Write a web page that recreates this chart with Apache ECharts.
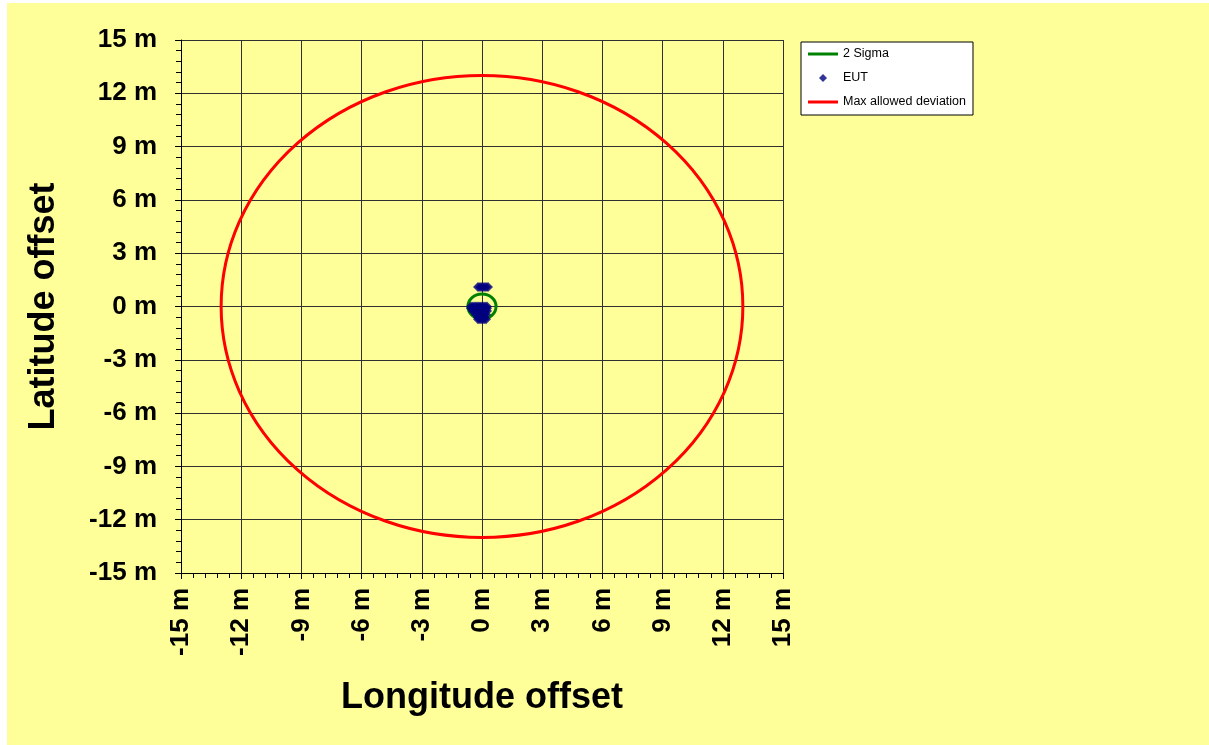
<!DOCTYPE html>
<html>
<head>
<meta charset="utf-8">
<script src="https://cdn.jsdelivr.net/npm/echarts@6/dist/echarts.min.js"></script>
<style>
  html, body { margin: 0; padding: 0; background: #fff; }
  #bg { position: absolute; left: 7px; top: 3px; width: 1202px; height: 742px; background: #FFFF99; }
  #chart { position: absolute; left: 0; top: 0; width: 1209px; height: 745px; }
</style>
</head>
<body>
<div id="bg"></div>
<div id="chart"></div>
<script>
// axis range, metres
const axisMin = -15;
const axisMax = 15;
const axisStep = 3;

// circles: centre lon, centre lat, radius (m)
const sigmaCircle = [[0, 0, 0.7]];
const maxCircle = [[0, 0, 13]];

// EUT fixes, offsets in metres
const eutLon = [
  -0.2, -0.1, 0, 0.1, 0.2, 0.3,
  -0.55, -0.45, -0.35, -0.25, -0.15, -0.05, 0.05, 0.15, 0.25,
  -0.55, -0.45, -0.35, -0.25, -0.15, -0.05, 0.05, 0.15, 0.25,
  -0.45, -0.35, -0.25, -0.15, -0.05, 0.05, 0.15, 0.25,
  -0.3, -0.2, -0.1, 0, 0.1, 0.2,
  -0.2, -0.1, 0, 0.1,
  -0.2, -0.1, 0, 0.1, 0.2
];
const eutLat = [
  1.1, 1.1, 1.1, 1.1, 1.1, 1.1,
  0, 0, 0, 0, 0, 0, 0, 0, 0,
  -0.1, -0.1, -0.1, -0.1, -0.1, -0.1, -0.1, -0.1, -0.1,
  -0.25, -0.25, -0.25, -0.25, -0.25, -0.25, -0.25, -0.25,
  -0.45, -0.45, -0.45, -0.45, -0.45, -0.45,
  -0.6, -0.6, -0.6, -0.6,
  -0.72, -0.72, -0.72, -0.72, -0.72
];

const eutPoints = eutLon.map((x, i) => [x, eutLat[i]]);

const font = 'Arial, "Liberation Sans", sans-serif';
const lineIcon = 'path://M0 0H30V3H0Z';
const diamondIcon = 'path://M4 0L8 4L4 8L0 4Z';

// ellipse in pixel space, since x and y scales differ
function ring(color) {
  return function (params, api) {
    const c = api.coord([api.value(0), api.value(1)]);
    const s = api.size([api.value(2), api.value(2)]);
    const rx = s[0], ry = s[1];
    const d = 'M' + (c[0] - rx) + ' ' + c[1] +
      ' A' + rx + ' ' + ry + ' 0 1 0 ' + (c[0] + rx) + ' ' + c[1] +
      ' A' + rx + ' ' + ry + ' 0 1 0 ' + (c[0] - rx) + ' ' + c[1] + ' Z';
    return {
      type: 'path',
      shape: { pathData: d },
      style: { fill: 'none', stroke: color, lineWidth: 3 }
    };
  };
}

function axis(name, gap, rotate, margin) {
  return {
    type: 'value',
    min: axisMin,
    max: axisMax,
    interval: axisStep,
    name: name,
    nameLocation: 'middle',
    nameGap: gap,
    nameTextStyle: { fontFamily: font, fontWeight: 'bold', fontSize: 36, color: '#000' },
    axisLine: { show: true, onZero: false, lineStyle: { color: '#000', width: 1 } },
    axisTick: { show: true, length: 6, lineStyle: { color: '#000' } },
    minorTick: { show: true, splitNumber: 5, length: 5, lineStyle: { color: '#000' } },
    splitLine: { show: true, lineStyle: { color: '#303030', width: 1 } },
    axisLabel: {
      rotate: rotate,
      margin: margin,
      formatter: '{value} m',
      fontFamily: font,
      fontWeight: 'bold',
      fontSize: 26,
      color: '#000'
    }
  };
}

const chart = echarts.init(document.getElementById('chart'));

chart.setOption({
  animation: false,
  grid: { left: 181, top: 40, width: 602, height: 533, containLabel: false },
  xAxis: axis('Longitude offset', 107, 90, 15),
  yAxis: axis('Latitude offset', 119, 0, 24),
  legend: {
    orient: 'vertical',
    left: 801,
    top: 42,
    padding: [5, 7, 6, 7],
    itemGap: 10,
    itemWidth: 30,
    itemHeight: 8,
    backgroundColor: '#fff',
    borderColor: '#000',
    borderWidth: 1,
    borderRadius: 0,
    textStyle: { fontFamily: font, fontSize: 12.5, lineHeight: 14, color: '#000' },
    data: [
      { name: '2 Sigma', icon: lineIcon, itemStyle: { color: '#008000' } },
      { name: 'EUT', icon: diamondIcon, itemStyle: { color: '#000080' } },
      { name: 'Max allowed deviation', icon: lineIcon, itemStyle: { color: '#FF0000' } }
    ]
  },
  series: [
    {
      name: '2 Sigma',
      type: 'custom',
      renderItem: ring('#008000'),
      itemStyle: { color: '#008000' },
      data: sigmaCircle
    },
    {
      name: 'EUT',
      type: 'scatter',
      symbol: 'diamond',
      symbolSize: 10,
      itemStyle: { color: '#000080' },
      data: eutPoints
    },
    {
      name: 'Max allowed deviation',
      type: 'custom',
      renderItem: ring('#FF0000'),
      itemStyle: { color: '#FF0000' },
      data: maxCircle
    }
  ]
});
</script>
</body>
</html>
